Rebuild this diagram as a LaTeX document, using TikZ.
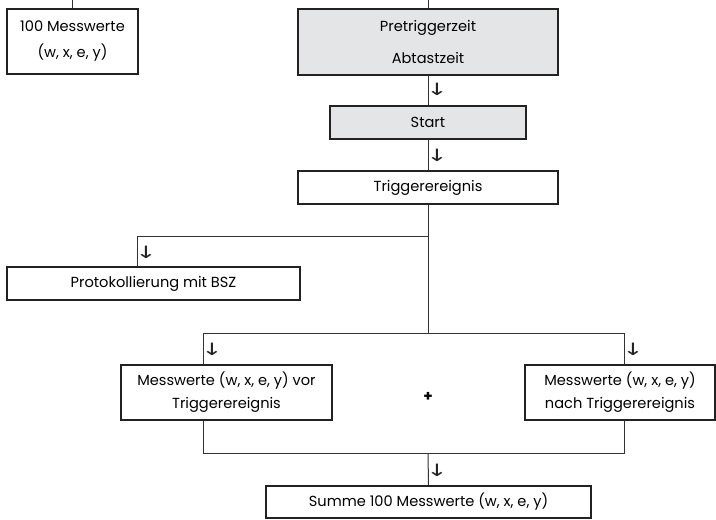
\documentclass[tikz,border=0pt]{standalone}
\usepackage{fontspec}
\setmainfont{Poppins}
\newfontfamily\arrowfont{DejaVu Sans}
\definecolor{boxgray}{HTML}{E4E5E7}
\definecolor{edge}{HTML}{222222}
\definecolor{wire}{HTML}{333333}
\begin{document}
\begin{tikzpicture}[x=1pt,y=-1pt,
  box/.style={draw=edge,line width=2.4pt,fill=white,inner sep=0pt,align=center,
    font=\fontsize{14.6}{24}\selectfont},
  graybox/.style={box,fill=boxgray},
  wireline/.style={draw=wire,line width=1pt},
  arr/.style={font=\arrowfont\fontsize{17}{17}\selectfont,inner sep=0pt,text=edge,xscale=1.5,transform shape}]
\useasboundingbox (0,0) rectangle (716,520);
% boxes
\node[box,minimum width=131pt,minimum height=65pt,font=\fontsize{14.6}{26}\selectfont] (m100) at (72.5,41.5) {100 Messwerte\\(w, x, e, y)};
\node[graybox,minimum width=260pt,minimum height=66pt,font=\fontsize{14.6}{32}\selectfont] (pre) at (428,42) {Pretriggerzeit\\Abtastzeit};
\node[graybox,minimum width=196pt,minimum height=33pt] (start) at (428,122.5) {Start};
\node[box,minimum width=260pt,minimum height=33pt] (trig) at (428,187.5) {Triggerereignis};
\node[box,minimum width=293pt,minimum height=33pt] (prot) at (153.5,283.5) {Protokollierung mit BSZ};
\node[box,minimum width=211pt,minimum height=55pt,font=\fontsize{14.6}{23}\selectfont] (left) at (226.5,392.5) {Messwerte (w, x, e, y) vor\\Triggerereignis};
\node[box,minimum width=190pt,minimum height=55pt,font=\fontsize{14.6}{23}\selectfont] (right) at (620,392.5) {Messwerte (w, x, e, y)\\nach Triggerereignis};
\node[box,minimum width=325pt,minimum height=32pt] (sum) at (428.5,502) {Summe 100 Messwerte (w, x, e, y)};
\node[font=\fontsize{15}{15}\selectfont\bfseries,inner sep=0pt] (plus) at (428,397) {+};
% coordinates
\coordinate (t1) at (72.5,0);
\coordinate (t2) at (428,0);
\coordinate (b) at (428,236);
\coordinate (bp) at (137,236);
\coordinate (hm) at (428,333);
\coordinate (hl) at (203,333);
\coordinate (hr) at (624,333);
\coordinate (jl) at (203,453);
\coordinate (jr) at (624,453);
\coordinate (jm) at (428,453);
% connectors
\draw[wireline] (t1) -- (m100.north);
\draw[wireline] (t2) -- (pre.north);
\draw[wireline] (pre.south) -- (start.north);
\draw[wireline] (start.south) -- (trig.north);
\draw[wireline] (trig.south) -- (hm);
\draw[wireline] (b) -- (bp) -- (bp |- prot.north);
\draw[wireline] (hl) -- (hr);
\draw[wireline] (hl) -- (hl |- left.north);
\draw[wireline] (hr) -- (hr |- right.north);
\draw[wireline] (hl |- left.south) -- (jl) -- (jr) -- (hr |- right.south);
\draw[wireline] (jm) -- (sum.north);
% arrow glyphs
\node[arr] (a1) at (437,89) {↓};
\node[arr] (a2) at (437,155) {↓};
\node[arr] (a3) at (146,252) {↓};
\node[arr] (a4) at (212,349) {↓};
\node[arr] (a5) at (633,349) {↓};
\node[arr] (a6) at (437,470) {↓};
\end{tikzpicture}
\end{document}
